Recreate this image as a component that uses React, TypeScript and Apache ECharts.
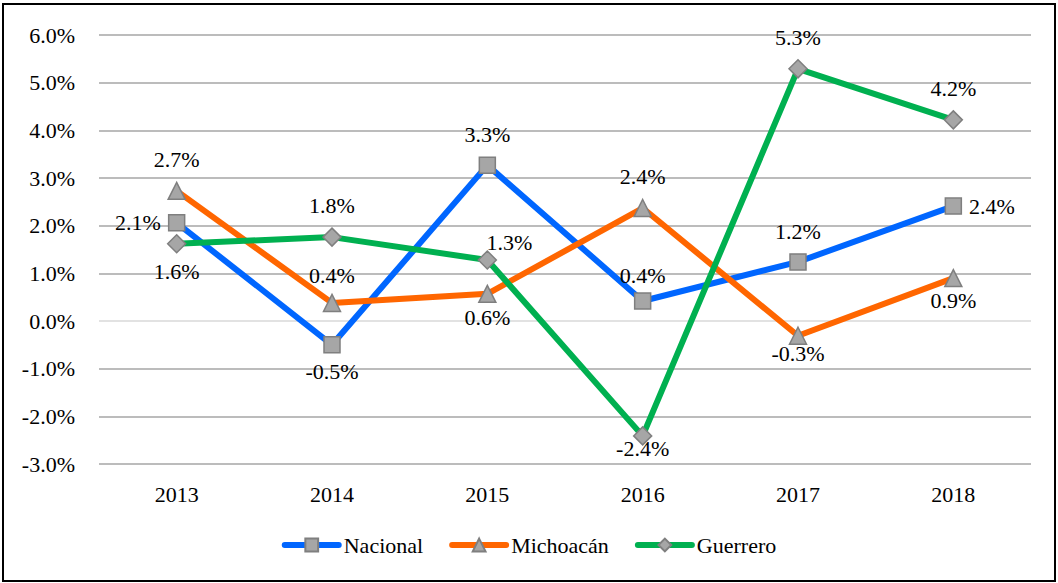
import React, { useEffect, useRef } from "react";
import * as echarts from "echarts";

const years = ["2013", "2014", "2015", "2016", "2017", "2018"];
const nacional = [2.06, -0.5, 3.27, 0.42, 1.24, 2.41];
const michoacan = [2.73, 0.38, 0.57, 2.37, -0.31, 0.9];
const guerrero = [1.62, 1.76, 1.28, -2.41, 5.29, 4.22];
const nacionalPos = ["left", "bottom", "top", "top", "top", "right"];
const michoacanPos = ["top", "top", "bottom", "top", "bottom", "bottom"];
const guerreroPos = ["bottom", "top", "top", "bottom", "top", "top"];
// label nudges [dx, dy] in pixels
const nacionalNudge = [[0, 0], [0, 0], [0, 0], [0, 5], [0, 0], [0, 0]];
const michoacanNudge = [[0, 0], [0, 4], [0, -4], [0, 0], [0, -10], [0, -5]];
const guerreroNudge = [[0, 0], [0, 0], [22, 14], [0, -15], [0, 0], [0, 0]];
const yTicks = ["-3.0%", "-2.0%", "-1.0%", "0.0%", "1.0%", "2.0%", "3.0%", "4.0%", "5.0%", "6.0%"];

const FONT = "Liberation Serif";
const FS = 22;
const MARKER_FILL = "#a6a6a6";
const MARKER_BORDER = "#7f7f7f";

function buildData(values: number[], positions: string[], nudges: number[][]) {
  return values.map((v, i) => {
    const p = positions[i];
    const label: any = {
      position: p,
      distance: p === "top" ? 11 : 7,
      offset: nudges[i],
    };
    return { value: v, label };
  });
}

export default function App() {
  const ref = useRef<HTMLDivElement>(null);
  useEffect(() => {
    if (!ref.current) return;
    const chart = echarts.init(ref.current, null, { renderer: "svg" });
    const mkSeries = (name: string, color: string, symbol: string, size: number, values: number[], pos: string[], nudges: number[][]) => ({
      name,
      type: "line",
      data: buildData(values, pos, nudges),
      symbol,
      symbolSize: size,
      showAllSymbol: true,
      lineStyle: { color, width: 6 },
      itemStyle: { color: MARKER_FILL, borderColor: MARKER_BORDER, borderWidth: 1.5 },
      label: {
        show: true,
        distance: 7,
        fontFamily: FONT,
        fontSize: FS,
        color: "#000",
        formatter: (p: any) => Number(p.value).toFixed(1) + "%",
      },
      emphasis: { disabled: true },
      z: 2,
    });
    chart.setOption({
      animation: false,
      backgroundColor: "#fff",
      textStyle: { fontFamily: FONT },
      graphic: [
        {
          type: "rect",
          shape: { x: 3, y: 4, width: 1052, height: 577 },
          style: { fill: "none", stroke: "#000", lineWidth: 2 },
          silent: true,
          z: 100,
        },
      ],
      grid: { left: 99, right: 27, top: 35, bottom: 119, containLabel: false },
      legend: {
        bottom: 22,
        left: "center",
        itemWidth: 54,
        itemHeight: 16,
        itemGap: 26,
        lineStyle: { width: 6, cap: "round" },
        textStyle: { fontFamily: FONT, fontSize: FS, color: "#000" },
        data: ["Nacional", "Michoacán", "Guerrero"],
      },
      xAxis: {
        type: "category",
        data: years,
        boundaryGap: true,
        axisLine: { show: false },
        axisTick: { show: false },
        axisLabel: { fontFamily: FONT, fontSize: FS, color: "#000", margin: 19 },
      },
      yAxis: {
        type: "value",
        min: -3,
        max: 6,
        interval: 1,
        axisLine: { show: false },
        axisTick: { show: false },
        axisLabel: {
          fontFamily: FONT,
          fontSize: FS,
          color: "#000",
          margin: 24,
          formatter: (v: number) => yTicks[Math.round(v + 3)],
        },
        splitLine: {
          lineStyle: {
            width: 1.5,
            color: ["#a6a6a6", "#a6a6a6", "#a6a6a6", "#d9d9d9", "#a6a6a6", "#a6a6a6", "#a6a6a6", "#a6a6a6", "#a6a6a6", "#a6a6a6"],
          },
        },
      },
      series: [
        mkSeries("Nacional", "#0066ff", "rect", 16, nacional, nacionalPos, nacionalNudge),
        mkSeries("Michoacán", "#ff6600", "triangle", 17, michoacan, michoacanPos, michoacanNudge),
        mkSeries("Guerrero", "#00b050", "diamond", 18, guerrero, guerreroPos, guerreroNudge),
      ],
    });
    return () => chart.dispose();
  }, []);
  return (
    <div style={{ position: "absolute", left: 0, top: 0, width: 1058, height: 583 }}>
      <div ref={ref} style={{ width: 1058, height: 583 }} />
    </div>
  );
}
